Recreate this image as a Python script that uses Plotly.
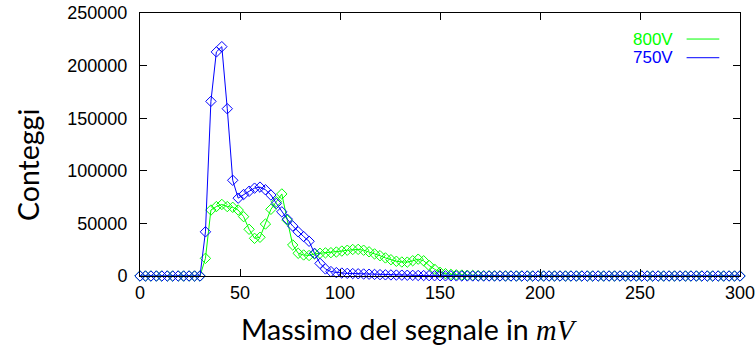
import numpy as np
import plotly.graph_objects as go

# Bin centres of the pulse-height histogram (mV)
x_mv = np.linspace(0, 300, 111)

# Counts per bin, 800 V supply
counts_800v = [
    0, 0, 0, 0, 0, 0, 0, 0, 0, 0, 0, 0,
    16800, 62700, 66000, 68000, 66000, 65300, 62700, 56400, 44400, 35800,
    36800, 49400, 63400, 70600, 78000, 53000, 29500, 21600, 20000, 19500,
    21000, 21600, 22000, 22200, 22800, 23700, 24500, 25200, 25300, 24500,
    23000, 21000, 19300, 17200, 15500, 14000, 13300, 13200, 14500, 16000,
    14500, 10000, 6500, 3500, 2200, 1500, 1100, 900, 700, 550,
    400, 300, 200, 150, 100, 50, 30, 0, 0, 0,
    0, 0, 0, 0, 0, 0, 0, 0, 0, 0,
    0, 0, 0, 0, 0, 0, 0, 0, 0, 0,
    0, 0, 0, 0, 0, 0, 0, 0, 0, 0,
    0, 0, 0, 0, 0, 0, 0, 0, 0,
]

# Counts per bin, 750 V supply
counts_750v = [
    0, 0, 0, 0, 0, 0, 0, 0, 0, 0, 0, 0,
    42000, 166000, 213000, 218000, 159000, 91000, 74000, 77500, 80500, 83500,
    84500, 82000, 77000, 69000, 61000, 54000, 47500, 42000, 37500, 33000,
    21500, 12000, 6700, 4200, 3200, 2800, 2500, 2300, 2100, 1900,
    1700, 1500, 1300, 1100, 1000, 900, 800, 700, 600, 500,
    400, 300, 250, 200, 150, 100, 80, 60, 40, 20,
    0, 0, 0, 0, 0, 0, 0, 0, 0, 0,
    0, 0, 0, 0, 0, 0, 0, 0, 0, 0,
    0, 0, 0, 0, 0, 0, 0, 0, 0, 0,
    0, 0, 0, 0, 0, 0, 0, 0, 0, 0,
    0, 0, 0, 0, 0, 0, 0, 0, 0,
]

series_names = ["800V", "750V"]
series_colors = ["#00ff00", "#0000ff"]

x_ticks = [0, 50, 100, 150, 200, 250, 300]
y_ticks = [0, 50000, 100000, 150000, 200000, 250000]

fig = go.Figure()
for name, ys, col in zip(series_names, [counts_800v, counts_750v], series_colors):
    fig.add_trace(go.Scatter(
        x=x_mv, y=ys, name=name, mode="lines+markers",
        line=dict(color=col, width=1),
        marker=dict(symbol="diamond-open", size=8, color=col, line=dict(width=1, color=col)),
        showlegend=False, cliponaxis=False,
    ))

tick_font = dict(family="Liberation Sans, Arial, sans-serif", size=18, color="#000000")
title_font = dict(family="Lato, 'DejaVu Sans', sans-serif", size=28.5, color="#000000")

axis_common = dict(
    showgrid=False, zeroline=False, showline=True, linecolor="#000000", linewidth=1,
    mirror="ticks", ticks="inside", ticklen=7, tickcolor="#000000", tickwidth=1,
    tickfont=tick_font, automargin=False,
)

fig.update_xaxes(range=[0, 300], tickvals=x_ticks, ticktext=[str(v) for v in x_ticks], **axis_common)
fig.update_yaxes(range=[0, 250000], tickvals=y_ticks, ticktext=[str(v) for v in y_ticks],
                 ticklabelstandoff=8, **axis_common)

# Axis titles
fig.add_annotation(
    text="Massimo del segnale in <span style=\"font-family:'Liberation Serif', serif\"><i>mV</i></span>",
    xref="paper", yref="paper", x=0.449, y=-0.2015, xanchor="center", yanchor="middle",
    showarrow=False, font=title_font,
)
fig.add_annotation(
    text="Conteggi", textangle=-90,
    xref="paper", yref="paper", x=-0.1867, y=0.422, xanchor="center", yanchor="middle",
    showarrow=False, font=title_font,
)

# Key: label followed by a line sample
key_rows = [0.901, 0.830]
for name, col, yk in zip(series_names, series_colors, key_rows):
    fig.add_annotation(
        text=name, xref="paper", yref="paper", x=0.8917, y=yk,
        xanchor="right", yanchor="middle", showarrow=False,
        font=dict(family="Liberation Sans, Arial, sans-serif", size=17, color=col),
    )
    fig.add_shape(type="line", xref="paper", yref="paper", x0=0.911, x1=0.9655, y0=yk, y1=yk,
                  line=dict(color=col, width=1))

fig.update_layout(
    width=756, height=353,
    margin=dict(l=140, r=16, t=13, b=77, autoexpand=False),
    paper_bgcolor="#ffffff", plot_bgcolor="#ffffff",
)

fig.write_html("out.html")
